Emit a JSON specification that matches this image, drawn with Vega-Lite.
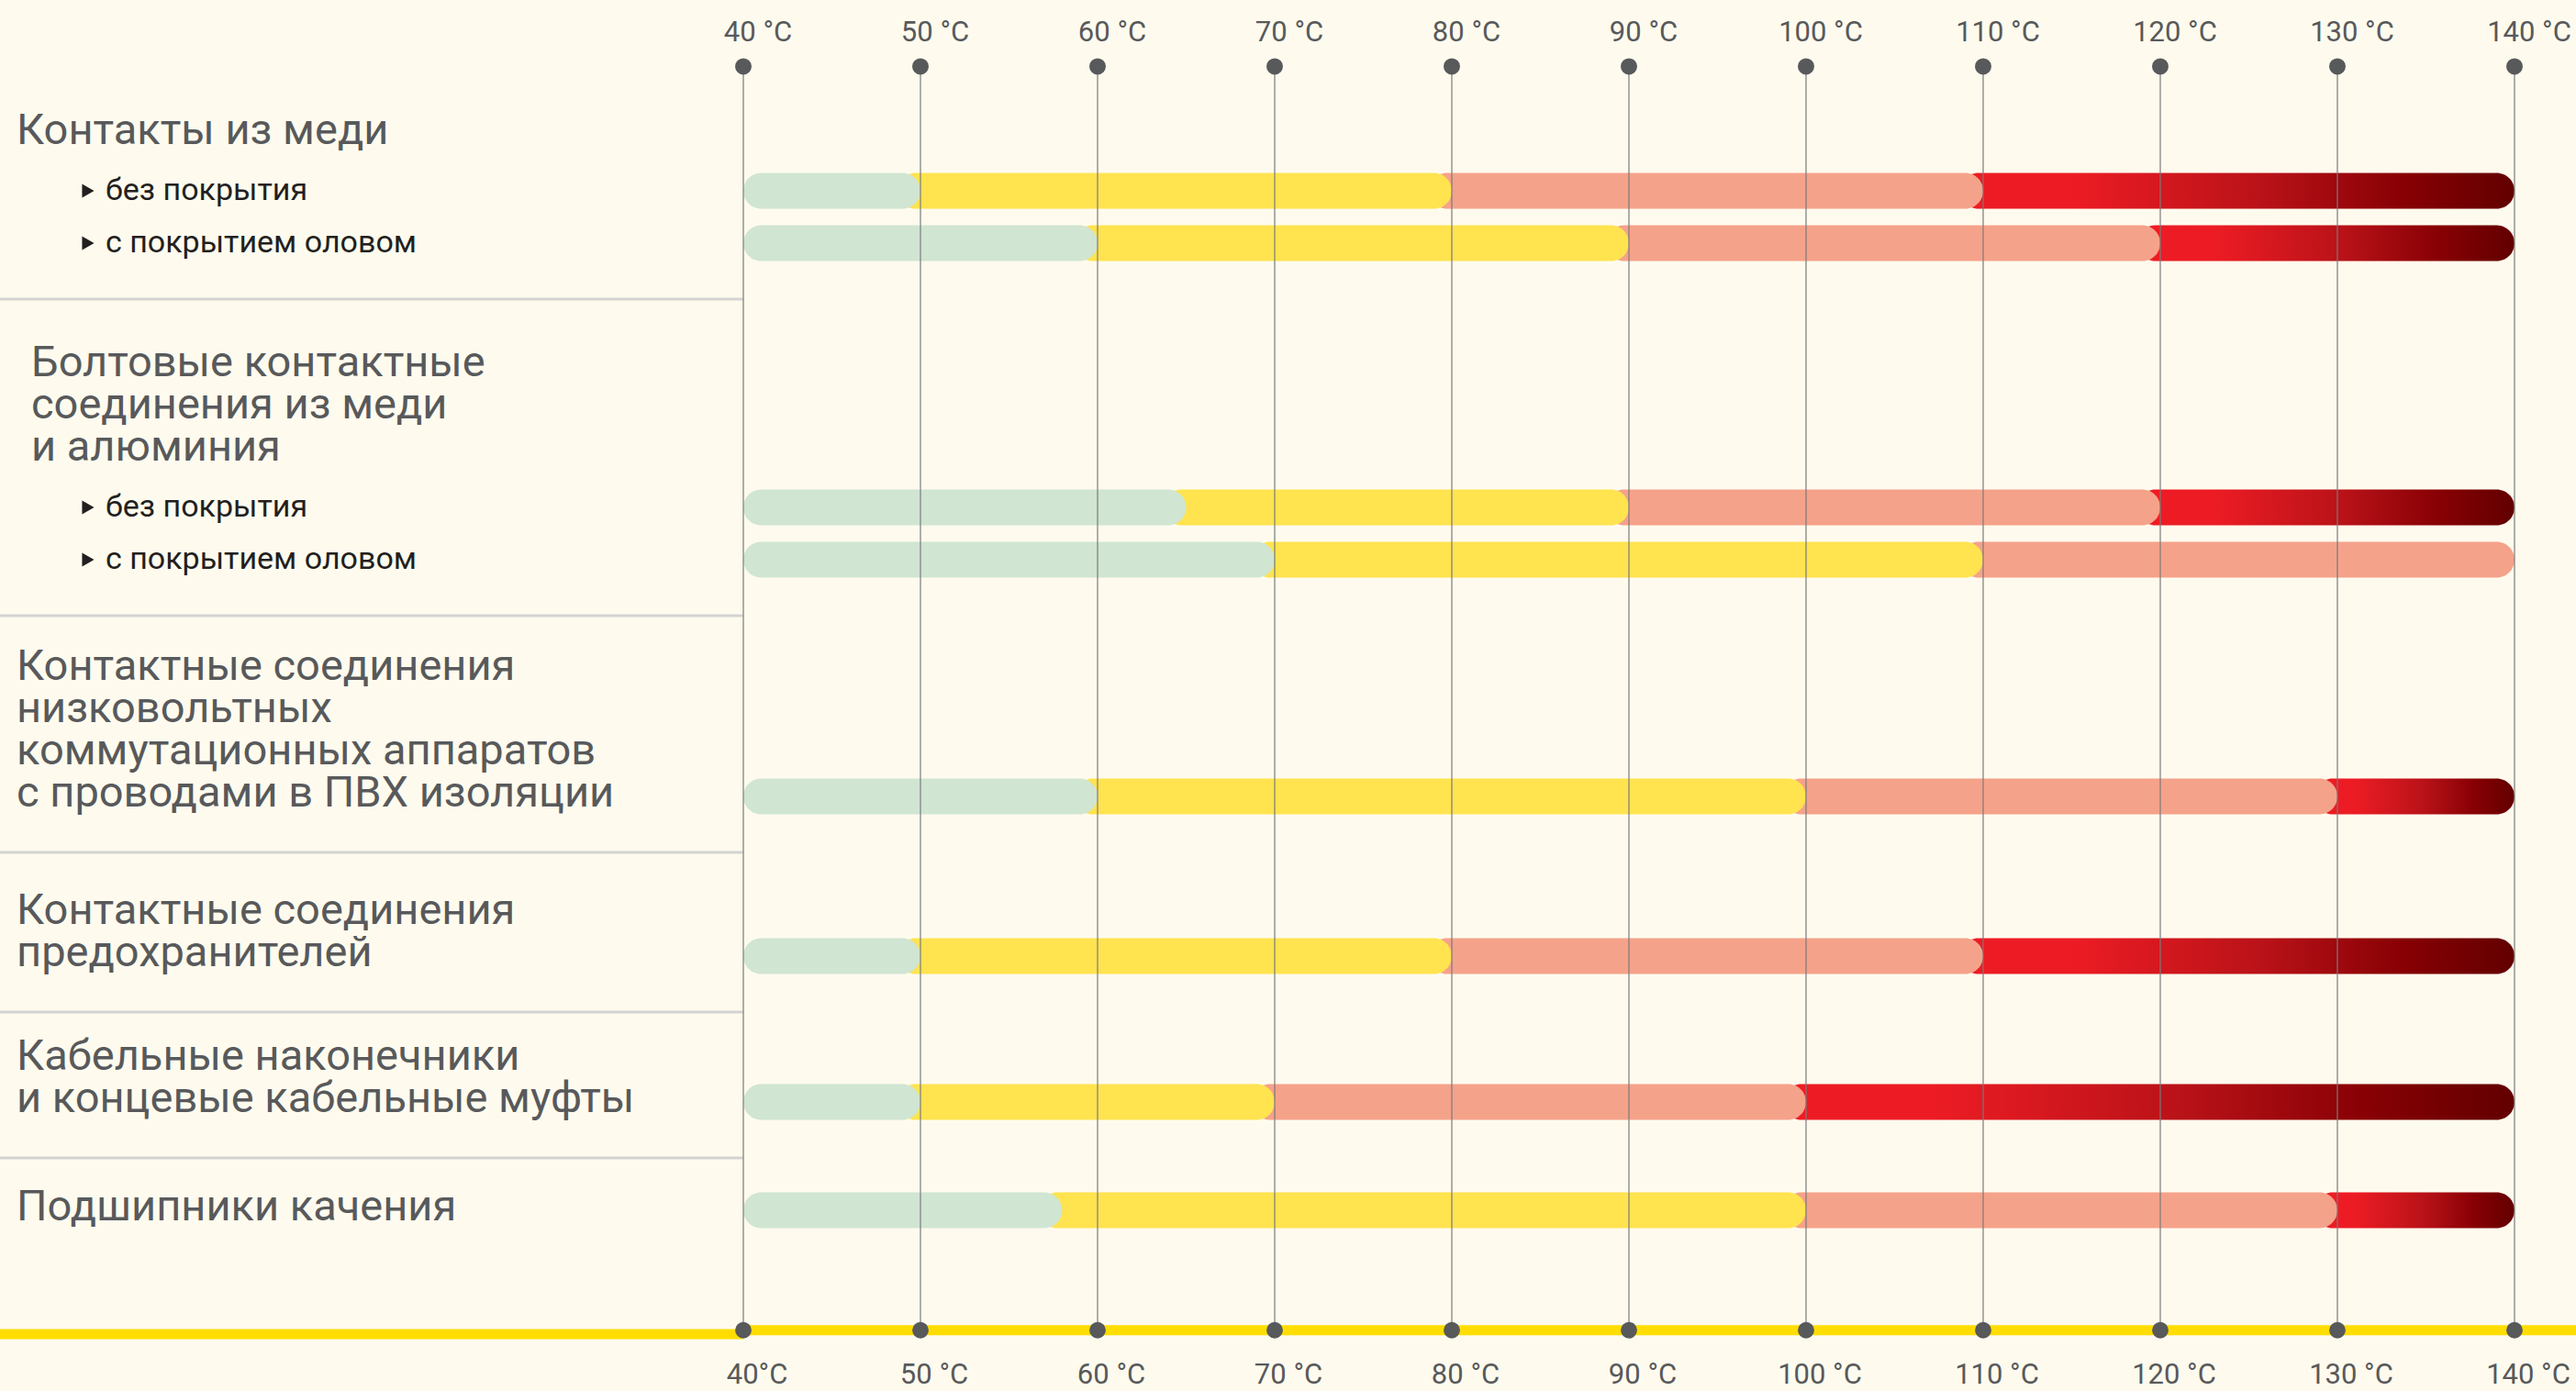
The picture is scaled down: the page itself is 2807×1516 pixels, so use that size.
{
  "$schema": "https://vega.github.io/schema/vega-lite/v6.json",
  "background": "#FEFBEE",
  "padding": {"left": -6, "top": 0, "right": 0, "bottom": 0},
  "autosize": {"type": "pad"},
  "spacing": 0,
  "bounds": "flush",
  "config": {"view": {"stroke": null}, "text": {"font": "Roboto", "fontSize": 47, "lineHeight": 46, "lineBreak": "\n", "color": "#58595B", "align": "left", "baseline": "alphabetic"}},
  "datasets": {
    "bars": [
      {"row": 1, "group": "Контакты из меди", "variant": "без покрытия", "zone": "normal", "from": 40, "to": 50},
      {"row": 1, "group": "Контакты из меди", "variant": "без покрытия", "zone": "elevated", "from": 50, "to": 80},
      {"row": 1, "group": "Контакты из меди", "variant": "без покрытия", "zone": "high", "from": 80, "to": 110},
      {"row": 1, "group": "Контакты из меди", "variant": "без покрытия", "zone": "critical", "from": 110, "to": 140},
      {"row": 2, "group": "Контакты из меди", "variant": "с покрытием оловом", "zone": "normal", "from": 40, "to": 60},
      {"row": 2, "group": "Контакты из меди", "variant": "с покрытием оловом", "zone": "elevated", "from": 60, "to": 90},
      {"row": 2, "group": "Контакты из меди", "variant": "с покрытием оловом", "zone": "high", "from": 90, "to": 120},
      {"row": 2, "group": "Контакты из меди", "variant": "с покрытием оловом", "zone": "critical", "from": 120, "to": 140},
      {"row": 3, "group": "Болтовые контактные соединения", "variant": "без покрытия", "zone": "normal", "from": 40, "to": 65},
      {"row": 3, "group": "Болтовые контактные соединения", "variant": "без покрытия", "zone": "elevated", "from": 65, "to": 90},
      {"row": 3, "group": "Болтовые контактные соединения", "variant": "без покрытия", "zone": "high", "from": 90, "to": 120},
      {"row": 3, "group": "Болтовые контактные соединения", "variant": "без покрытия", "zone": "critical", "from": 120, "to": 140},
      {"row": 4, "group": "Болтовые контактные соединения", "variant": "с покрытием оловом", "zone": "normal", "from": 40, "to": 70},
      {"row": 4, "group": "Болтовые контактные соединения", "variant": "с покрытием оловом", "zone": "elevated", "from": 70, "to": 110},
      {"row": 4, "group": "Болтовые контактные соединения", "variant": "с покрытием оловом", "zone": "high", "from": 110, "to": 140},
      {"row": 5, "group": "Низковольтные аппараты", "variant": "", "zone": "normal", "from": 40, "to": 60},
      {"row": 5, "group": "Низковольтные аппараты", "variant": "", "zone": "elevated", "from": 60, "to": 100},
      {"row": 5, "group": "Низковольтные аппараты", "variant": "", "zone": "high", "from": 100, "to": 130},
      {"row": 5, "group": "Низковольтные аппараты", "variant": "", "zone": "critical", "from": 130, "to": 140},
      {"row": 6, "group": "Предохранители", "variant": "", "zone": "normal", "from": 40, "to": 50},
      {"row": 6, "group": "Предохранители", "variant": "", "zone": "elevated", "from": 50, "to": 80},
      {"row": 6, "group": "Предохранители", "variant": "", "zone": "high", "from": 80, "to": 110},
      {"row": 6, "group": "Предохранители", "variant": "", "zone": "critical", "from": 110, "to": 140},
      {"row": 7, "group": "Кабельные наконечники", "variant": "", "zone": "normal", "from": 40, "to": 50},
      {"row": 7, "group": "Кабельные наконечники", "variant": "", "zone": "elevated", "from": 50, "to": 70},
      {"row": 7, "group": "Кабельные наконечники", "variant": "", "zone": "high", "from": 70, "to": 100},
      {"row": 7, "group": "Кабельные наконечники", "variant": "", "zone": "critical", "from": 100, "to": 140},
      {"row": 8, "group": "Подшипники качения", "variant": "", "zone": "normal", "from": 40, "to": 58},
      {"row": 8, "group": "Подшипники качения", "variant": "", "zone": "elevated", "from": 58, "to": 100},
      {"row": 8, "group": "Подшипники качения", "variant": "", "zone": "high", "from": 100, "to": 130},
      {"row": 8, "group": "Подшипники качения", "variant": "", "zone": "critical", "from": 130, "to": 140}
    ],
    "groups": [
      {"title": "Контакты из меди", "nLines": 1, "firstRow": 1, "lastRow": 2, "sub": true},
      {"title": "Болтовые контактные\nсоединения из меди\nи алюминия", "nLines": 3, "firstRow": 3, "lastRow": 4, "sub": true},
      {"title": "Контактные соединения\nнизковольтных\nкоммутационных аппаратов\nс проводами в ПВХ изоляции", "nLines": 4, "firstRow": 5, "lastRow": 5, "sub": false},
      {"title": "Контактные соединения\nпредохранителей", "nLines": 2, "firstRow": 6, "lastRow": 6, "sub": false},
      {"title": "Кабельные наконечники\nи концевые кабельные муфты", "nLines": 2, "firstRow": 7, "lastRow": 7, "sub": false},
      {"title": "Подшипники качения", "nLines": 1, "firstRow": 8, "lastRow": 8, "sub": false}
    ],
    "items": [
      {"row": 1, "label": "без покрытия"},
      {"row": 2, "label": "с покрытием оловом"},
      {"row": 3, "label": "без покрытия"},
      {"row": 4, "label": "с покрытием оловом"}
    ],
    "ticks": [
      {"t": 40, "top": "40 °C", "bottom": "40°C"},
      {"t": 50, "top": "50 °C", "bottom": "50 °C"},
      {"t": 60, "top": "60 °C", "bottom": "60 °C"},
      {"t": 70, "top": "70 °C", "bottom": "70 °C"},
      {"t": 80, "top": "80 °C", "bottom": "80 °C"},
      {"t": 90, "top": "90 °C", "bottom": "90 °C"},
      {"t": 100, "top": "100 °C", "bottom": "100 °C"},
      {"t": 110, "top": "110 °C", "bottom": "110 °C"},
      {"t": 120, "top": "120 °C", "bottom": "120 °C"},
      {"t": 130, "top": "130 °C", "bottom": "130 °C"},
      {"t": 140, "top": "140 °C", "bottom": "140 °C"}
    ]
  },
  "hconcat": [
    {
      "width": 810,
      "height": 1516,
      "layer": [
        {
          "data": {"name": "groups"},
          "transform": [{"filter": "datum.lastRow < 8"}],
          "mark": {"type": "rule", "color": "#D3D4D1", "strokeWidth": 3, "yOffset": 61},
          "encoding": {
            "y": {"field": "lastRow", "type": "quantitative", "axis": null,
                  "scale": {"domain": [0,1,2,3,4,5,6,7,8,9], "range": [68,208,265,553,610,868,1042,1201,1319,1454], "zero": false, "nice": false}}
          }
        },
        {
          "data": {"values": [{}]},
          "mark": {"type": "rule", "color": "#FFDD00", "strokeWidth": 11},
          "encoding": {"y": {"datum": 9, "type": "quantitative"}}
        },
        {
          "data": {"name": "groups"},
          "transform": [{"filter": "datum.sub && datum.nLines == 1"}],
          "mark": {"type": "text", "dy": -51},
          "encoding": {
            "x": {"datum": "title", "type": "nominal", "axis": null, "scale": {"type": "point", "domain": ["title", "item"], "range": [18, 115], "padding": 0}},
            "y": {"field": "firstRow", "type": "quantitative"},
            "text": {"field": "title"}
          }
        },
        {
          "data": {"name": "groups"},
          "transform": [{"filter": "datum.sub && datum.nLines == 3"}],
          "mark": {"type": "text", "dy": -143, "dx": 16},
          "encoding": {
            "x": {"datum": "title", "type": "nominal"},
            "y": {"field": "firstRow", "type": "quantitative"},
            "text": {"field": "title"}
          }
        },
        {
          "data": {"name": "groups"},
          "transform": [{"filter": "!datum.sub && datum.nLines == 4"}],
          "mark": {"type": "text", "dy": -127},
          "encoding": {
            "x": {"datum": "title", "type": "nominal"},
            "y": {"field": "firstRow", "type": "quantitative"},
            "text": {"field": "title"}
          }
        },
        {
          "data": {"name": "groups"},
          "transform": [{"filter": "!datum.sub && datum.nLines == 2"}],
          "mark": {"type": "text", "dy": -35},
          "encoding": {
            "x": {"datum": "title", "type": "nominal"},
            "y": {"field": "firstRow", "type": "quantitative"},
            "text": {"field": "title"}
          }
        },
        {
          "data": {"name": "groups"},
          "transform": [{"filter": "!datum.sub && datum.nLines == 1"}],
          "mark": {"type": "text", "dy": 11},
          "encoding": {
            "x": {"datum": "title", "type": "nominal"},
            "y": {"field": "firstRow", "type": "quantitative"},
            "text": {"field": "title"}
          }
        },
        {
          "data": {"name": "items"},
          "mark": {"type": "point", "shape": "triangle-right", "filled": true, "size": 230, "color": "#231F20", "opacity": 1, "xOffset": -19},
          "encoding": {
            "x": {"datum": "item", "type": "nominal"},
            "y": {"field": "row", "type": "quantitative"}
          }
        },
        {
          "data": {"name": "items"},
          "mark": {"type": "text", "baseline": "middle", "fontSize": 34, "color": "#231F20"},
          "encoding": {
            "x": {"datum": "item", "type": "nominal"},
            "y": {"field": "row", "type": "quantitative"},
            "text": {"field": "label"}
          }
        }
      ]
    },
    {
      "width": 1997,
      "height": 1516,
      "layer": [
        {
          "data": {"name": "bars"},
          "transform": [{"filter": "datum.zone == 'critical'"}],
          "mark": {"type": "bar", "orient": "horizontal", "size": 39, "cornerRadiusEnd": 19.5, "xOffset": -25,
                   "color": {"gradient": "linear", "x1": 0, "x2": 1, "y1": 0, "y2": 0,
                             "stops": [{"offset": 0, "color": "#ED1C24"}, {"offset": 0.2, "color": "#ED1C24"}, {"offset": 0.55, "color": "#B81218"}, {"offset": 0.8, "color": "#870004"}, {"offset": 1, "color": "#620000"}]}},
          "encoding": {
            "x": {"field": "from", "type": "quantitative", "axis": null, "scale": {"domain": [40, 140], "range": [0, 1930], "zero": false, "nice": false}},
            "x2": {"field": "to"},
            "y": {"field": "row", "type": "quantitative", "axis": null,
                  "scale": {"domain": [0,1,2,3,4,5,6,7,8,9], "range": [68,208,265,553,610,868,1042,1201,1319,1454], "zero": false, "nice": false}}
          }
        },
        {
          "data": {"name": "bars"},
          "transform": [{"filter": "datum.zone == 'high'"}],
          "mark": {"type": "bar", "orient": "horizontal", "size": 39, "cornerRadiusEnd": 19.5, "xOffset": -25, "color": "#F5A28A"},
          "encoding": {
            "x": {"field": "from", "type": "quantitative"},
            "x2": {"field": "to"},
            "y": {"field": "row", "type": "quantitative"}
          }
        },
        {
          "data": {"name": "bars"},
          "transform": [{"filter": "datum.zone == 'elevated'"}],
          "mark": {"type": "bar", "orient": "horizontal", "size": 39, "cornerRadiusEnd": 19.5, "xOffset": -25, "color": "#FFE34F"},
          "encoding": {
            "x": {"field": "from", "type": "quantitative"},
            "x2": {"field": "to"},
            "y": {"field": "row", "type": "quantitative"}
          }
        },
        {
          "data": {"name": "bars"},
          "transform": [{"filter": "datum.zone == 'normal'"}],
          "mark": {"type": "bar", "orient": "horizontal", "size": 39, "cornerRadiusEnd": 19.5, "color": "#D0E5D2"},
          "encoding": {
            "x": {"field": "from", "type": "quantitative"},
            "x2": {"field": "to"},
            "y": {"field": "row", "type": "quantitative"}
          }
        },
        {
          "data": {"name": "ticks"},
          "mark": {"type": "rule", "color": "#7A7A7A", "strokeWidth": 1.2},
          "encoding": {
            "x": {"field": "t", "type": "quantitative"},
            "y": {"datum": 0, "type": "quantitative"},
            "y2": {"datum": 9}
          }
        },
        {
          "data": {"values": [{}]},
          "mark": {"type": "rule", "color": "#FFDD00", "strokeWidth": 11},
          "encoding": {"y": {"datum": 9, "type": "quantitative"}}
        },
        {
          "data": {"name": "ticks"},
          "mark": {"type": "point", "shape": "circle", "filled": true, "size": 320, "color": "#58595B", "opacity": 1},
          "encoding": {
            "x": {"field": "t", "type": "quantitative"},
            "y": {"datum": 0, "type": "quantitative"}
          }
        },
        {
          "data": {"name": "ticks"},
          "mark": {"type": "point", "shape": "circle", "filled": true, "size": 320, "color": "#58595B", "opacity": 1},
          "encoding": {
            "x": {"field": "t", "type": "quantitative"},
            "y": {"datum": 9, "type": "quantitative"}
          }
        },
        {
          "data": {"name": "ticks"},
          "mark": {"type": "text", "align": "center", "dx": 16, "dy": -27, "fontSize": 31},
          "encoding": {
            "x": {"field": "t", "type": "quantitative"},
            "y": {"datum": 0, "type": "quantitative"},
            "text": {"field": "top"}
          }
        },
        {
          "data": {"name": "ticks"},
          "mark": {"type": "text", "align": "center", "dx": 15, "dy": 58, "fontSize": 31},
          "encoding": {
            "x": {"field": "t", "type": "quantitative"},
            "y": {"datum": 9, "type": "quantitative"},
            "text": {"field": "bottom"}
          }
        }
      ]
    }
  ]
}
